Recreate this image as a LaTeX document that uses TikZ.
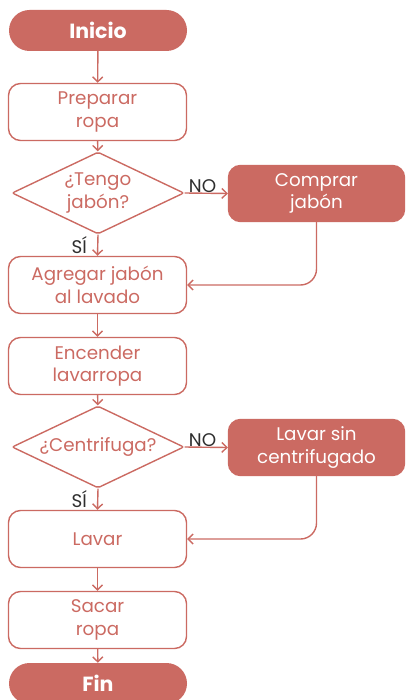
\documentclass[tikz,border=0pt]{standalone}
\usepackage{fontspec}
\setmainfont{Poppins}
\usetikzlibrary{arrows.meta,shapes.geometric}
\definecolor{rojo}{HTML}{CB6A62}
\definecolor{gris}{HTML}{2E2E2E}
\tikzset{
  x=1pt,y=1pt,
  every node/.style={font=\fontsize{18.3}{22.5}\selectfont, align=center},
  caja/.style={draw=rojo, line width=1.4pt, rounded corners=12pt, minimum width=178pt, minimum height=57pt, text=rojo, inner sep=0pt},
  cajaroja/.style={fill=rojo, draw=rojo, line width=1.4pt, rounded corners=12pt, minimum width=176pt, minimum height=56pt, text=white, inner sep=0pt},
  pill/.style={fill=rojo, rounded corners=20.5pt, minimum width=178pt, minimum height=41pt, text=white, font=\fontsize{20.5}{22}\bfseries\selectfont, inner sep=0pt},
  dia/.style={diamond, draw=rojo, line width=1.4pt, minimum width=172pt, minimum height=82pt, inner sep=0pt, rounded corners=2pt},
  diatext/.style={text=rojo},
  flecha/.style={draw=rojo, line width=1.4pt, -{Straight Barb[length=5pt,width=10pt,line width=1.4pt]}},
  etiq/.style={text=gris, inner sep=1pt}
}
\begin{document}
\begin{tikzpicture}
\useasboundingbox (0,0) rectangle (406,-700);
\node[pill] (ini) at (98,-30.5) {Inicio};
\node[caja] (p1) at (97.5,-112) {Preparar\\ropa};
\node[dia] (d1) at (98,-193) {};
\node[diatext] (t1) at (d1) {¿Tengo\\jabón?};
\node[cajaroja] (c1) at (316.5,-193.5) {Comprar\\jabón};
\node[caja] (p2) at (97.5,-285) {Agregar jabón\\al lavado};
\node[caja] (p3) at (97.5,-366) {Encender\\lavarropa};
\node[dia] (d2) at (98,-447) {};
\node[diatext] (t2) at (d2) {¿Centrifuga?};
\node[cajaroja] (c2) at (316.5,-447.5) {Lavar sin\\centrifugado};
\node[caja] (p4) at (97.5,-539) {Lavar};
\node[caja] (p5) at (97.5,-620) {Sacar\\ropa};
\node[pill] (fin) at (98,-683.5) {Fin};

\draw[flecha] (ini) -- (p1);
\draw[flecha] (p1) -- (d1);
\draw[flecha] (d1.east) -- (c1.west);
\draw[flecha] (d1.south) -- (p2.north);
\draw[flecha, rounded corners=16pt] (c1.south) |- (p2.east);
\draw[flecha] (p2) -- (p3);
\draw[flecha] (p3) -- (d2);
\draw[flecha] (d2.east) -- (c2.west);
\draw[flecha] (d2.south) -- (p4.north);
\draw[flecha, rounded corners=16pt] (c2.south) |- (p4.east);
\draw[flecha] (p4) -- (p5);
\draw[flecha] (p5) -- (fin);

\node[etiq, anchor=south west] (no1) at ([xshift=3pt,yshift=-1pt]d1.east) {NO};
\node[etiq, anchor=north east] (si1) at ([xshift=-10pt,yshift=-1pt]d1.south) {SÍ};
\node[etiq, anchor=south west] (no2) at ([xshift=3pt,yshift=-1pt]d2.east) {NO};
\node[etiq, anchor=north east] (si2) at ([xshift=-10pt,yshift=-1pt]d2.south) {SÍ};
\end{tikzpicture}
\end{document}
